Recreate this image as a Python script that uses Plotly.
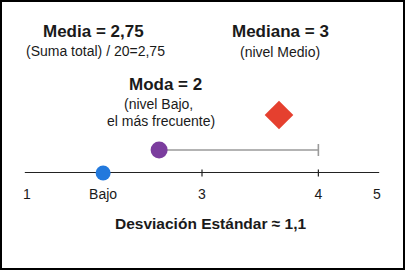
import plotly.graph_objects as go

# ---- data ----
tick_pos = [1, 1.87, 3, 4.33, 5]
tick_text = ["1", "Bajo", "3", "4", "5"]
marked_ticks = [3, 4.33]

blue_x, blue_y = 1.87, 0
purple_x, purple_y = 2.51, 1
range_end_x = 4.33
diamond_x, diamond_y = 3.88, 2.52

W, H = 405, 270
FONT = "Liberation Sans, Arial, Helvetica, sans-serif"
INK = "#1a1a1a"


def px(x):
    return x / W


def py(y):
    return 1 - y / H


fig = go.Figure()

# axis line
fig.add_trace(go.Scatter(
    x=[tick_pos[0] - 0.025, tick_pos[-1] + 0.025], y=[0, 0],
    mode="lines", line=dict(color="#222222", width=2),
    cliponaxis=False, hoverinfo="skip", showlegend=False))

# tick marks crossing the axis
fig.add_trace(go.Scatter(
    x=marked_ticks, y=[0] * len(marked_ticks), mode="markers",
    marker=dict(symbol="line-ns", size=5, line=dict(color="#222222", width=1.2)),
    cliponaxis=False, hoverinfo="skip", showlegend=False))

# gray range line with end cap
fig.add_trace(go.Scatter(
    x=[purple_x, range_end_x], y=[purple_y, purple_y], mode="lines",
    line=dict(color="#9a9a9a", width=1.6),
    cliponaxis=False, hoverinfo="skip", showlegend=False))
fig.add_trace(go.Scatter(
    x=[range_end_x], y=[purple_y], mode="markers",
    marker=dict(symbol="line-ns", size=8.6, line=dict(color="#9a9a9a", width=1.6)),
    cliponaxis=False, hoverinfo="skip", showlegend=False))

# points
fig.add_trace(go.Scatter(
    x=[blue_x], y=[blue_y], mode="markers",
    marker=dict(color="#2279dd", size=15, line=dict(width=0)),
    cliponaxis=False, hoverinfo="skip", showlegend=False))
fig.add_trace(go.Scatter(
    x=[purple_x], y=[purple_y], mode="markers",
    marker=dict(color="#7b3d9e", size=17, line=dict(width=0)),
    cliponaxis=False, hoverinfo="skip", showlegend=False))
fig.add_trace(go.Scatter(
    x=[diamond_x], y=[diamond_y], mode="markers",
    marker=dict(symbol="diamond", color="#e5402f", size=22, line=dict(width=0)),
    cliponaxis=False, hoverinfo="skip", showlegend=False))

texts = [
    ("<b>Media = 2,75</b>", 17, 93, 31),
    ("(Suma total) / 20=2,75", 14, 95, 51),
    ("<b>Mediana = 3</b>", 17, 280, 31),
    ("(nivel Medio)", 14, 280, 52),
    ("<b>Moda = 2</b>", 17, 165, 84),
    ("(nivel Bajo,", 14, 158, 104),
    ("el más frecuente)", 14, 161, 121),
    ("<b>Desviación Estándar ≈ 1,1</b>", 15.5, 211, 223),
]
annotations = [
    dict(text=t, x=px(x), y=py(y), xref="paper", yref="paper",
         xanchor="center", yanchor="middle", showarrow=False,
         font=dict(size=s, color=INK, family=FONT))
    for t, s, x, y in texts
]

x0 = 1 - 27 / 87.5
fig.update_layout(
    width=W, height=H,
    margin=dict(l=0, r=0, t=0, b=0, pad=0),
    paper_bgcolor="white", plot_bgcolor="white",
    xaxis=dict(range=[x0, x0 + W / 87.5], domain=[0, 1],
               tickvals=tick_pos, ticktext=tick_text,
               tickfont=dict(size=14, color=INK, family=FONT),
               ticks="outside", ticklen=8, tickcolor="rgba(0,0,0,0)",
               showline=False, showgrid=False, zeroline=False, fixedrange=True),
    yaxis=dict(range=[0, 173 / 23], domain=[(H - 173) / H, 1], visible=False,
               showgrid=False, zeroline=False, fixedrange=True),
    annotations=annotations,
    shapes=[dict(type="rect", xref="paper", yref="paper", x0=0, y0=0, x1=1, y1=1,
                 line=dict(color="black", width=4))],
    showlegend=False,
)

fig.write_html("out.html", config={"displayModeBar": False},
               post_script="document.body.style.margin='0px';document.body.style.overflow='hidden';")
